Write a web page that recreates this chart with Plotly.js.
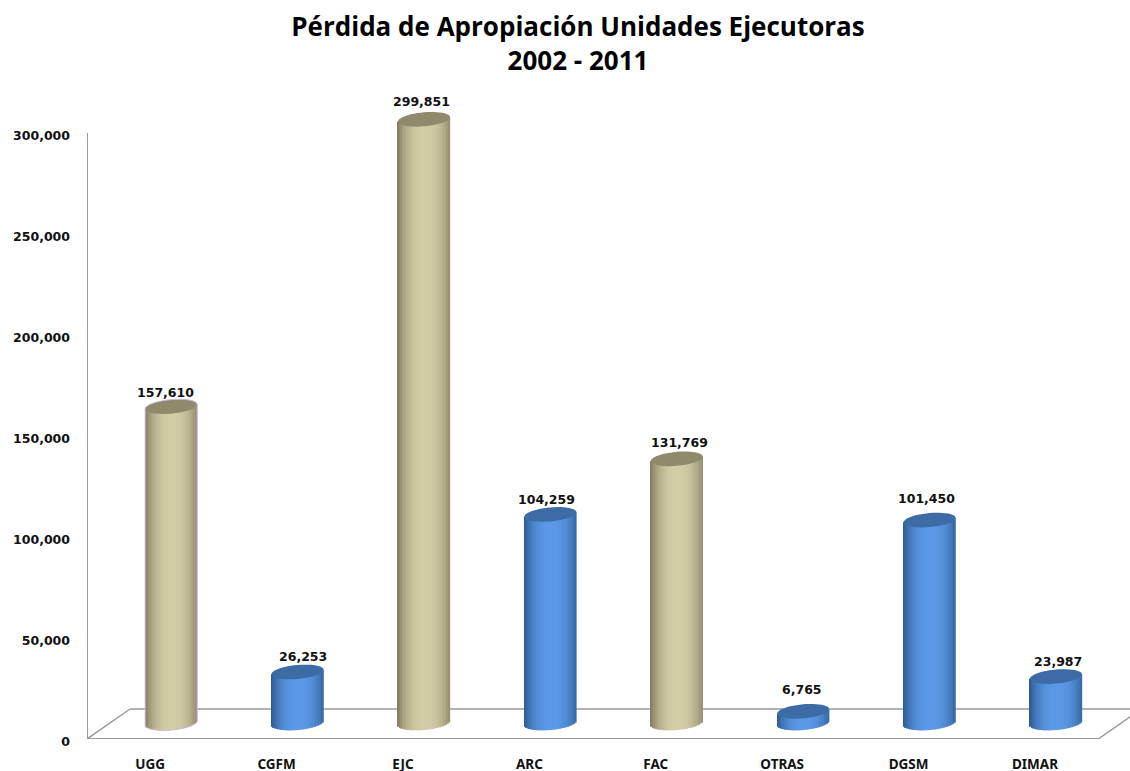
<!DOCTYPE html>
<html>
<head>
<meta charset="utf-8">
<script src="https://cdn.plot.ly/plotly-3.0.1.min.js"></script>
<style>html,body{margin:0;padding:0;background:#fff}</style>
</head>
<body>
<div id="plotArea" style="width:1130px;height:771px"></div>
<script>
var categories = ["UGG", "CGFM", "EJC", "ARC", "FAC", "OTRAS", "DGSM", "DIMAR"];
var perdida = [157610, 26253, 299851, 104259, 131769, 6765, 101450, 23987];
var grupo = ["caqui", "azul", "caqui", "azul", "caqui", "azul", "azul", "azul"];
var yTicks = [0, 50000, 100000, 150000, 200000, 250000, 300000];

// small nudges so the labels sit where the original has them, in pixels
var labelDx = [-6, 5, -3, -4, 3, -1, -3, 2];
var labelDy = [28, 29, 32, 29, 30, 36, 36, 29];

var colores = {
    caqui: {borde: [128, 122, 94], centro: [211, 204, 167], tapa: "#8f8a6b"},
    azul: {borde: [44, 88, 142], centro: [91, 153, 230], tapa: "#3c6ba6"}
};

var pxY = 300000 / 606;      // data units per pixel on y
var pxX = 1 / 126.4;         // data units per pixel on x
var pieY = 16 * pxY;         // centre of the foot of each cylinder above the axis
var techoY = 14 * pxY;       // the top is lifted a bit less than the foot
var fondoX = 21 * pxX;
var radioX = 26 * pxX;
var radioY = 7 * pxY;
var incl = 2.2 * pxY;        // the ellipses lean a little up to the right

function mezcla(c, u) {
    var s = 1 - Math.pow(Math.abs(u - 0.06) / 1.06, 2.4);
    var a = c.borde, b = c.centro;
    return "rgb(" + [0, 1, 2].map(function (i) {
        return Math.round(a[i] + (b[i] - a[i]) * s);
    }).join(",") + ")";
}

// every cylinder is a row of thin bars, so it can shade and have a round foot
var nTiras = 34;
var tx = [], tBase = [], tAlto = [], tColor = [], tAncho = [];
perdida.forEach(function (v, i) {
    for (var k = 0; k < nTiras; k++) {
        var u = (k + 0.5) / nTiras * 2 - 1;
        var pie = pieY - radioY * Math.sqrt(1 - u * u) + incl * u;
        var techo = techoY + v + incl * u;
        tx.push(i + fondoX + u * radioX);
        tBase.push(pie);
        tAlto.push(techo - pie);
        tColor.push(mezcla(colores[grupo[i]], u));
        tAncho.push(radioX * 2 / nTiras * 1.25);
    }
});

var cilindros = {
    type: "bar",
    x: tx,
    y: tAlto,
    base: tBase,
    width: tAncho,
    marker: {color: tColor, line: {width: 0}},
    hoverinfo: "skip",
    cliponaxis: false
};

function elipse(i) {
    var cx = i + fondoX, cy = techoY + perdida[i], d = "";
    for (var t = 0; t <= 48; t++) {
        var a = t / 48 * 2 * Math.PI;
        var x = cx + radioX * Math.cos(a);
        var y = cy + radioY * Math.sin(a) + incl * Math.cos(a);
        d += (t ? "L" : "M") + x + "," + y + " ";
    }
    return d + "Z";
}

function contorno(i) {
    var cx = i + fondoX, d = "", t, a;
    for (t = 0; t <= 24; t++) {
        a = Math.PI - t / 24 * Math.PI;
        d += (t ? "L" : "M") + (cx + radioX * Math.cos(a)) + "," +
            (techoY + perdida[i] + radioY * Math.sin(a) + incl * Math.cos(a)) + " ";
    }
    for (t = 0; t <= 24; t++) {
        a = -t / 24 * Math.PI;
        d += "L" + (cx + radioX * Math.cos(a)) + "," +
            (pieY + radioY * Math.sin(a) + incl * Math.cos(a)) + " ";
    }
    return d + "Z";
}

var gris = {color: "#9a9a9a", width: 2};
function linea(x0, y0, x1, y1, w) {
    return {type: "line", xref: "x", yref: "y", x0: x0, y0: y0, x1: x1, y1: y1, layer: "below",
        line: {color: gris.color, width: w || gris.width}};
}

var sombras = [
    linea(-0.5, 0, -0.5, 300000),
    linea(-0.5, 0, 7.5, 0),
    linea(-0.5, 0, -0.5 + 43 * pxX, 30 * pxY, 1.5),
    linea(7.5, 0, 7.5 + 43 * pxX, 30 * pxY, 1.5),
    linea(-0.5 + 43 * pxX, 30 * pxY, 7.84, 30 * pxY, 1.5)
];
perdida.forEach(function (v, i) {
    sombras.push({type: "path", xref: "x", yref: "y", path: elipse(i),
        fillcolor: colores[grupo[i]].tapa, line: {width: 0}});
});
// UGG has a thin lilac outline in the original
sombras.push({type: "path", xref: "x", yref: "y", path: contorno(0),
    fillcolor: "rgba(0,0,0,0)", line: {color: "#c8b7dc", width: 1}});

var etiquetas = perdida.map(function (v, i) {
    return {
        x: i + fondoX, y: v, xref: "x", yref: "y",
        text: v.toLocaleString("en-US"),
        showarrow: false,
        xshift: labelDx[i], yshift: labelDy[i],
        font: {family: "DejaVu Sans", size: 12.5, color: "#111", weight: 700}
    };
});

var layout = {
    title: {
        text: "Pérdida de Apropiación Unidades Ejecutoras<br>2002 - 2011",
        font: {family: "Open Sans", size: 26, color: "#000", weight: 700},
        x: 578 / 1130, xanchor: "center",
        y: 1 - 36 / 771, yanchor: "middle", yref: "container"
    },
    width: 1130,
    height: 771,
    margin: {l: 87, r: 0, t: 93, b: 32, pad: 0},
    paper_bgcolor: "#fff",
    plot_bgcolor: "#fff",
    showlegend: false,
    barmode: "overlay",
    xaxis: {
        range: [-0.5, -0.5 + 1043 * pxX],
        tickmode: "array",
        tickvals: categories.map(function (c, i) { return i; }),
        ticktext: categories,
        ticklen: 0,
        ticklabelstandoff: 15,
        showgrid: false,
        zeroline: false,
        showline: false,
        tickfont: {family: "Noto Sans", size: 13.5, color: "#111", weight: 700}
    },
    yaxis: {
        range: [0, 646 * pxY],
        tickmode: "array",
        tickvals: yTicks,
        tickformat: ",d",
        ticklen: 0,
        ticklabelstandoff: 16,
        ticklabelshift: 3,
        showgrid: false,
        zeroline: false,
        showline: false,
        tickfont: {family: "DejaVu Sans", size: 12.5, color: "#111", weight: 700}
    },
    shapes: sombras,
    annotations: etiquetas
};

Plotly.newPlot("plotArea", [cilindros], layout, {displayModeBar: false});
</script>
</body>
</html>
